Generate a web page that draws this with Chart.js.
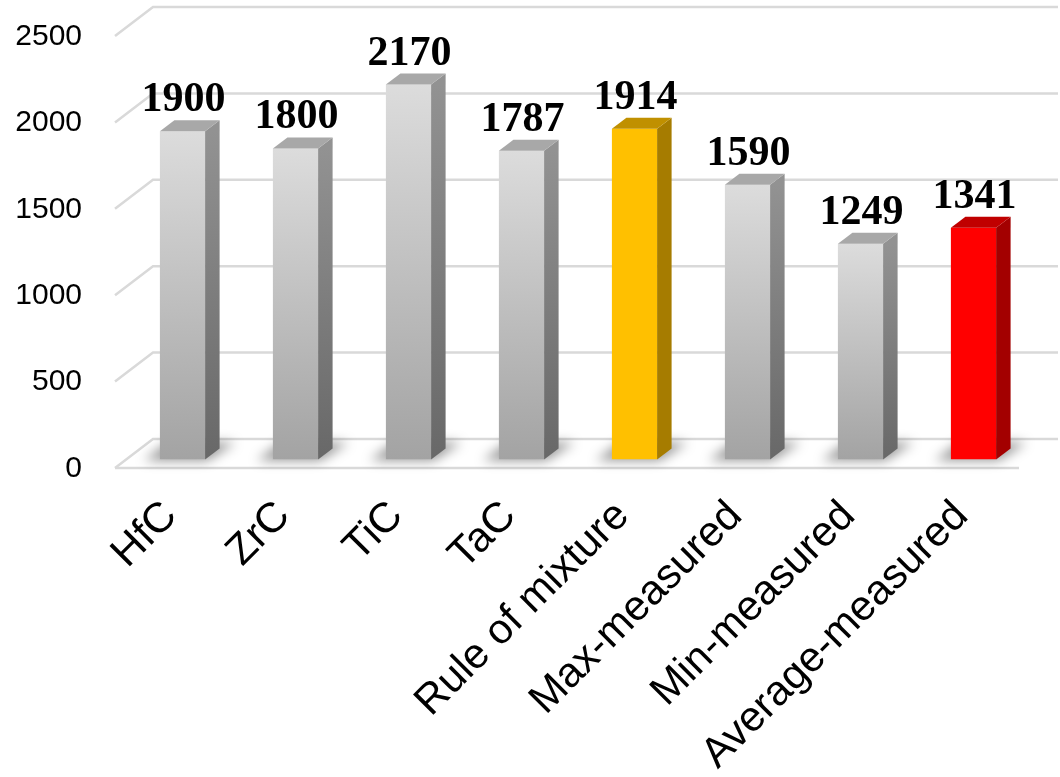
<!DOCTYPE html>
<html>
<head>
<meta charset="utf-8">
<script src="https://cdn.jsdelivr.net/npm/chart.js@4.4.1/dist/chart.umd.min.js"></script>
<style>
  html, body { margin: 0; padding: 0; background: #ffffff; }
  #wrap { width: 1060px; height: 777px; }
</style>
</head>
<body>
<div id="wrap"><canvas id="c" width="1060" height="777"></canvas></div>
<script>
// Comparison of carbide values, rule of mixture and measurements
const categories = ['HfC', 'ZrC', 'TiC', 'TaC', 'Rule of mixture', 'Max-measured', 'Min-measured', 'Average-measured'];
const values = [1900, 1800, 2170, 1787, 1914, 1590, 1249, 1341];
const barKinds = ['gray', 'gray', 'gray', 'gray', 'gold', 'gray', 'gray', 'red'];
const yMin = 0;
const yMax = 2500;
const yStep = 500;

// face colours for the pseudo-3D columns
const palette = {
  gray: { frontTop: '#dcdcdc', frontBottom: '#a3a3a3', sideTop: '#929292', sideBottom: '#686868', top: '#a8a8a8' },
  gold: { frontTop: '#ffc000', frontBottom: '#ffc000', sideTop: '#a67c00', sideBottom: '#a67c00', top: '#c09000' },
  red:  { frontTop: '#ff0000', frontBottom: '#ff0000', sideTop: '#a30000', sideBottom: '#a30000', top: '#c00000' }
};

// oblique projection offsets
const BAR_DX = 14.5, BAR_DY = -11;      // depth of each column
const FRONT_DX = -11, FRONT_DY = 8.5;   // front edge of floor/walls relative to column plane
const BACK_DX = 27, BACK_DY = -20.5;    // back wall relative to column plane
const GRID_COLOR = '#d9d9d9';

function frontGradient(ctx, kind, top, bottom) {
  const p = palette[kind];
  const g = ctx.createLinearGradient(0, top, 0, bottom);
  g.addColorStop(0, p.frontTop);
  g.addColorStop(1, p.frontBottom);
  return g;
}

const wallsPlugin = {
  id: 'walls',
  beforeDatasetsDraw(chart) {
    const { ctx, chartArea: a, scales: { y } } = chart;
    ctx.save();
    ctx.strokeStyle = GRID_COLOR;
    ctx.lineWidth = 2.5;
    ctx.lineCap = 'butt';
    for (let v = yMin; v <= yMax; v += yStep) {
      const py = y.getPixelForValue(v);
      ctx.beginPath();
      ctx.moveTo(a.left + FRONT_DX, py + FRONT_DY);
      ctx.lineTo(a.left + BACK_DX, py + BACK_DY);
      ctx.lineTo(a.right + BACK_DX + 1, py + BACK_DY);
      ctx.stroke();
    }
    // front edge of the floor
    const py0 = y.getPixelForValue(0);
    ctx.beginPath();
    ctx.moveTo(a.left + FRONT_DX, py0 + FRONT_DY);
    ctx.lineTo(a.right + FRONT_DX, py0 + FRONT_DY);
    ctx.stroke();

    // soft shadows cast on the floor
    const meta = chart.getDatasetMeta(0);
    ctx.filter = 'blur(6px)';
    ctx.fillStyle = 'rgba(0,0,0,0.42)';
    meta.data.forEach((bar) => {
      const half = bar.width / 2;
      const l = bar.x - half, r = bar.x + half, b = bar.base;
      ctx.beginPath();
      ctx.moveTo(l - 16, b + 1);
      ctx.lineTo(r + 2, b + 1);
      ctx.lineTo(r + BAR_DX + 16, b + BAR_DY - 6);
      ctx.lineTo(l + BAR_DX - 6, b + BAR_DY - 6);
      ctx.closePath();
      ctx.fill();
    });
    ctx.restore();
  },
  afterDatasetsDraw(chart) {
    const { ctx } = chart;
    const meta = chart.getDatasetMeta(0);
    ctx.save();
    meta.data.forEach((bar, i) => {
      const p = palette[barKinds[i]];
      const half = bar.width / 2;
      const l = bar.x - half, r = bar.x + half, t = bar.y, b = bar.base;
      // side face
      const sg = ctx.createLinearGradient(0, t, 0, b);
      sg.addColorStop(0, p.sideTop);
      sg.addColorStop(1, p.sideBottom);
      ctx.fillStyle = sg;
      ctx.beginPath();
      ctx.moveTo(r, t);
      ctx.lineTo(r + BAR_DX, t + BAR_DY);
      ctx.lineTo(r + BAR_DX, b + BAR_DY);
      ctx.lineTo(r, b);
      ctx.closePath();
      ctx.fill();
      // top face
      ctx.fillStyle = p.top;
      ctx.beginPath();
      ctx.moveTo(l, t);
      ctx.lineTo(l + BAR_DX, t + BAR_DY);
      ctx.lineTo(r + BAR_DX, t + BAR_DY);
      ctx.lineTo(r, t);
      ctx.closePath();
      ctx.fill();
      // value label
      ctx.fillStyle = '#000000';
      ctx.font = 'bold 42px "Liberation Serif", "Times New Roman", serif';
      ctx.textAlign = 'center';
      ctx.textBaseline = 'alphabetic';
      ctx.fillText(String(values[i]), bar.x + 1, t - 20);
    });
    ctx.restore();
  }
};

new Chart(document.getElementById('c'), {
  type: 'bar',
  data: {
    labels: categories,
    datasets: [{
      data: values,
      backgroundColor(context) {
        const chart = context.chart;
        if (!chart.chartArea) return '#cccccc';
        const y = chart.scales.y;
        const top = y.getPixelForValue(context.parsed.y);
        const bottom = y.getPixelForValue(0);
        return frontGradient(chart.ctx, barKinds[context.dataIndex], top, bottom);
      },
      borderWidth: 0,
      barPercentage: 0.8,
      categoryPercentage: 0.5
    }]
  },
  options: {
    responsive: false,
    animation: false,
    devicePixelRatio: 1,
    layout: { padding: { top: 27.5, right: 30, left: 0, bottom: 0 } },
    plugins: { legend: { display: false }, tooltip: { enabled: false } },
    scales: {
      x: {
        grid: { display: false },
        border: { display: false },
        ticks: {
          autoSkip: false,
          minRotation: 45,
          maxRotation: 45,
          padding: 24,
          labelOffset: -12,
          color: '#000000',
          font: { family: '"Liberation Sans", Arial, sans-serif', size: 42 }
        },
        afterFit(scale) {
          scale.height = 317.5;
          scale.paddingLeft = 0; scale.paddingRight = 0;
        }
      },
      y: {
        min: yMin,
        max: yMax,
        grid: { display: false },
        border: { display: false },
        ticks: {
          stepSize: yStep,
          padding: 36,
          labelOffset: 9,
          color: '#000000',
          font: { family: '"Liberation Sans", Arial, sans-serif', size: 30 },
          callback: (v) => String(v)
        },
        afterFit(scale) {
          scale.width = 126;
          scale.paddingTop = 0; scale.paddingBottom = 0;
        }
      }
    }
  },
  plugins: [wallsPlugin]
});
</script>
</body>
</html>
